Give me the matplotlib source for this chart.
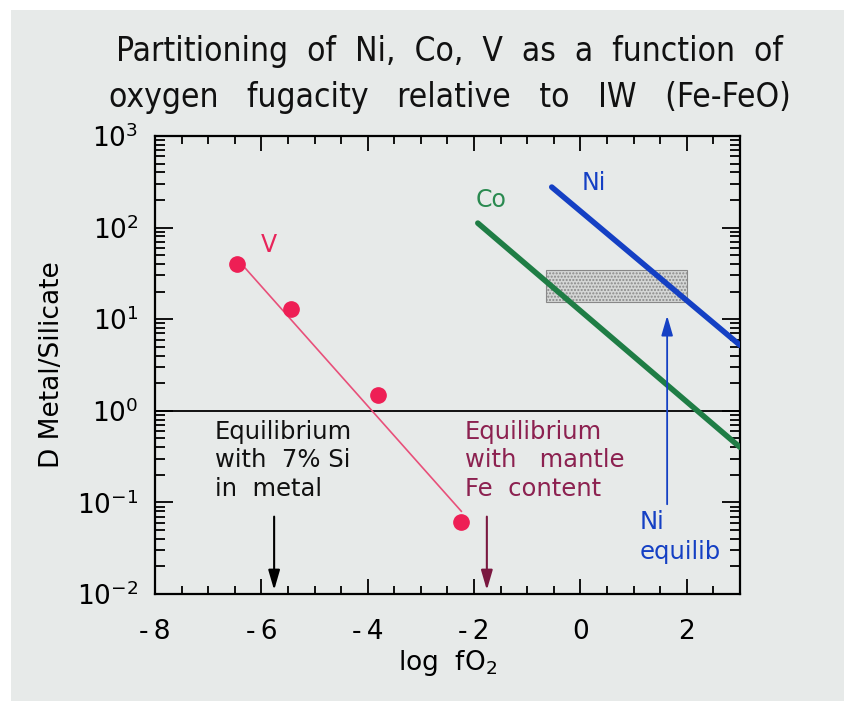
import matplotlib
matplotlib.use("Agg")
from matplotlib import pyplot as plt
from matplotlib.patches import Rectangle
from matplotlib.ticker import LogLocator, MultipleLocator, LogFormatterMathtext

# V data (points and fitted line)
v_x = [-6.45, -5.44, -3.81, -2.24]
v_y = [40, 12.9, 1.5, 0.061]
v_line_x = [-6.45, -2.24]
v_line_y = [45, 0.08]

# Co and Ni lines
co_x = [-1.93, 3.0]
co_y = [112, 0.40]
ni_x = [-0.54, 3.0]
ni_y = [277, 5.2]

# shaded range
box_x = [-0.65, 2.0]
box_y = [15.5, 34.6]

bg = '#e7eae9'
fig = plt.figure(figsize=(8.45, 7.01), dpi=100, facecolor=bg)
# white strips along top and left edge of the scan
fig.patches.append(Rectangle((0, 1 - 10 / 701), 1, 10 / 701, transform=fig.transFigure,
                             facecolor='white', edgecolor='none', zorder=-10))
fig.patches.append(Rectangle((0, 0), 11 / 845, 1, transform=fig.transFigure,
                             facecolor='white', edgecolor='none', zorder=-10))
ax = fig.add_axes([155 / 845, 1 - 594 / 701, 585 / 845, 458 / 701])
ax.set_facecolor(bg)

ax.set_yscale('log')
ax.set_xlim(-8, 3)
ax.set_ylim(1e-2, 1e3)

# Нанесение данных
ax.axhline(1, color='black', lw=1.3)
ax.add_patch(Rectangle((box_x[0], box_y[0]), box_x[1] - box_x[0], box_y[1] - box_y[0],
                       facecolor='#d4d6d5', edgecolor='#888888', hatch='.....', lw=0.8, zorder=2))
ax.plot(v_line_x, v_line_y, c='#e8507a', lw=1.2, zorder=3)
ax.plot(v_x, v_y, 'o', c='#ee1f55', ms=11, zorder=4)
ax.plot(co_x, co_y, c='#1f7d45', lw=4, solid_capstyle='round', zorder=3)
ax.plot(ni_x, ni_y, c='#1540c4', lw=4, solid_capstyle='round', zorder=3)

# Аннотации
ax.text(-5.85, 65, 'V', color='#e8245a', fontsize=17, ha='center', va='center')
ax.text(-1.68, 200, 'Co', color='#2a8a50', fontsize=17, ha='center', va='center')
ax.text(0.25, 309, 'Ni', color='#1540c4', fontsize=17, ha='center', va='center')
ax.text(-6.88, 0.80, 'Equilibrium\nwith  7% Si\nin  metal', color='#111111',
        fontsize=17.5, ha='left', va='top', linespacing=1.25)
ax.text(-2.17, 0.80, 'Equilibrium\nwith   mantle\nFe  content', color='#8c2150',
        fontsize=17.5, ha='left', va='top', linespacing=1.25)
ax.text(1.12, 0.083, 'Ni\nequilib', color='#1540c4', fontsize=17.5, ha='left', va='top',
        linespacing=1.3)

ax.annotate('', xy=(-5.76, 0.0103), xytext=(-5.76, 0.075),
            arrowprops=dict(arrowstyle='-|>,head_length=1.2,head_width=0.35', color='black', lw=1.5))
ax.annotate('', xy=(-1.76, 0.0103), xytext=(-1.76, 0.075),
            arrowprops=dict(arrowstyle='-|>,head_length=1.2,head_width=0.35', color='#7a1840', lw=1.5))
ax.annotate('', xy=(1.63, 11.7), xytext=(1.63, 0.089),
            arrowprops=dict(arrowstyle='-|>,head_length=1.2,head_width=0.35', color='#1540c4', lw=1.3))

# Форматирование диаграммы
ax.xaxis.set_major_locator(MultipleLocator(2))
ax.xaxis.set_minor_locator(MultipleLocator(0.5))
ax.yaxis.set_major_locator(LogLocator(base=10, numticks=10))
ax.yaxis.set_minor_locator(LogLocator(base=10, subs=range(2, 10), numticks=10))
ax.yaxis.set_major_formatter(LogFormatterMathtext())
ax.xaxis.set_major_formatter(plt.FuncFormatter(lambda v, p: ('-\u2009%d' % -v) if v < 0 else '%d' % v))
ax.tick_params(axis='both', which='both', direction='in', top=True, right=True,
               labelsize=19, width=1.3, colors='black')
ax.tick_params(axis='y', which='major', length=13, pad=12)
ax.tick_params(axis='y', which='minor', length=7)
ax.tick_params(axis='x', which='major', length=11, pad=18)
ax.tick_params(axis='x', which='minor', length=6)
for s in ax.spines.values():
    s.set_linewidth(1.6)

ax.set_xlabel('log  fO$_2$', fontsize=19, labelpad=2)
ax.set_ylabel('D Metal/Silicate', fontsize=19, labelpad=9)

fig.text(0.532, 1 - 52 / 701, 'Partitioning  of  Ni,  Co,  V  as  a  function  of',
         fontsize=24, ha='center', va='center', color='#111111', fontstretch='condensed')
fig.text(0.532, 1 - 97 / 701, 'oxygen   fugacity   relative   to   IW   (Fe-FeO)',
         fontsize=24, ha='center', va='center', color='#111111', fontstretch='condensed')

fig.savefig('out.png', dpi=100, facecolor=bg)
